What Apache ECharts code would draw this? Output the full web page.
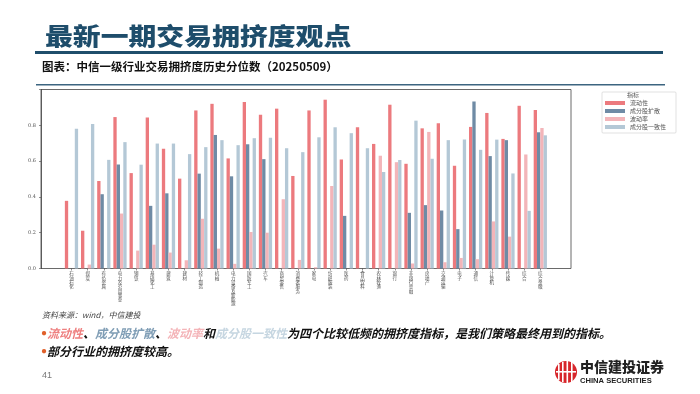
<!DOCTYPE html>
<html>
<head>
<meta charset="utf-8">
<script src="https://cdn.jsdelivr.net/npm/echarts@6/dist/echarts.min.js"></script>
<style>
html,body{margin:0;padding:0;background:#fff;}
#c{width:700px;height:394px;}
</style>
</head>
<body>
<div id="c"></div>
<script>
const categories = ['石油石化','煤炭','有色金属','电力及公用事业','钢铁','基础化工','建筑','建材','轻工制造','机械',
  '电力设备及新能源','国防军工','汽车','商贸零售','消费者服务','家电','纺织服装','医药','食品饮料','农林牧渔',
  '银行','非银行金融','房地产','交通运输','电子','通信','计算机','传媒','综合','综合金融'];
const seriesNames = ['流动性','成分股扩散','波动率','成分股一致性'];
const liquidity   = [0.378,0.211,0.489,0.846,0.533,0.843,0.669,0.502,0.883,0.920,0.615,0.930,0.859,0.893,0.517,0.883,0.943,0.609,0.789,0.696,0.915,0.585,0.783,0.811,0.574,0.791,0.869,0.724,0.909,0.885];
const diffusion   = [0,0,0.415,0.581,0,0.350,0.420,0,0.530,0.746,0.515,0.694,0.611,0,0,0,0,0.294,0,0,0,0.311,0.354,0.324,0.220,0.933,0.628,0.717,0,0.761];
const volatility  = [0,0.022,0,0.307,0.100,0.133,0.089,0.046,0.278,0.111,0.026,0.204,0.200,0.387,0.048,0.007,0.461,0,0,0.630,0.594,0.028,0.763,0.035,0.059,0.052,0.263,0.178,0.637,0.785];
const consistency = [0.781,0.807,0.607,0.706,0.580,0.698,0.698,0.639,0.678,0.717,0.689,0.728,0.730,0.672,0.650,0.733,0.789,0.756,0.672,0.539,0.606,0.826,0.613,0.717,0.720,0.663,0.720,0.531,0.322,0.744];
const yTicks = [0, 0.2, 0.4, 0.6, 0.8];
const colors = ['#EC7A7E','#6F8BA5','#F3B5B9','#B4C8D6'];

const chart = echarts.init(document.getElementById('c'), null, {renderer:'canvas'});
const values = [liquidity, diffusion, volatility, consistency];
const cjk = '"Noto Sans CJK SC","Noto Sans",sans-serif';

const option = {
  backgroundColor:'#fff',
  animation:false,
  textStyle:{fontFamily:cjk},
  grid:[
    {left:41, top:89.5, width:530, height:179, show:true, borderColor:'#444', borderWidth:0.8, backgroundColor:'transparent'},
    {left:63.4, top:89.5, width:485, height:179, show:false}
  ],
  xAxis:[
    {gridIndex:0, type:'value', min:0, max:1, show:false},
    {gridIndex:1, type:'category', data:categories,
     axisLine:{show:false},
     axisTick:{show:true, alignWithLabel:true, length:2, lineStyle:{color:'#444', width:0.6}},
     axisLabel:{interval:0, fontSize:4.5, lineHeight:4.3, color:'#555', margin:3,
       formatter:v=>v.split('').join('\n')}}
  ],
  yAxis:[
    {gridIndex:0, type:'value', min:0, max:1, interval:0.2,
     axisLine:{show:true, lineStyle:{color:'#444', width:0.8}},
     axisTick:{show:true, length:2, lineStyle:{color:'#444', width:0.6}},
     splitLine:{show:false},
     axisLabel:{fontSize:5, color:'#555', margin:5, fontFamily:'"DejaVu Serif",serif',
       formatter:v=> yTicks.some(t=>Math.abs(t-v)<1e-9) ? v.toFixed(1) : ''}},
    {gridIndex:1, type:'value', min:0, max:1, show:false}
  ],
  legend:{
    orient:'vertical', left:602, top:92,
    data:seriesNames, icon:'rect', itemWidth:20, itemHeight:4, itemGap:2,
    padding:[8,10,3,3], borderColor:'#ccc', borderWidth:0.6, borderRadius:1,
    textStyle:{fontSize:6, color:'#555', fontFamily:'"Noto Sans CJK SC",serif'}
  },
  series: seriesNames.map((n,i)=>({
    name:n, type:'bar', xAxisIndex:1, yAxisIndex:1, data:values[i],
    itemStyle:{color:colors[i]}, barGap:'0%', barCategoryGap:'18%'
  })),
  graphic:[
    {type:'text', left:45, top:24, scaleX:1.16, style:{text:'最新一期交易拥挤度观点', fontSize:24, fontWeight:900, fill:'#1E4D6B', fontFamily:cjk}},
    {type:'rect', shape:{x:35, y:51, width:628, height:3}, style:{fill:'#1F4E6B'}},
    {type:'text', left:42, top:61, style:{text:'图表：中信一级行业交易拥挤度历史分位数（20250509）', fontSize:11.5, fontWeight:'bold', fill:'#111', fontFamily:cjk}},
    {type:'rect', shape:{x:36, y:84, width:629, height:1.5}, style:{fill:'#3C6580'}},
    {type:'text', left:627, top:92, style:{text:'指标', fontSize:6, fill:'#555', fontFamily:cjk}},
    {type:'text', left:42, top:311, style:{text:'资料来源：wind，中信建投', fontSize:8, fontStyle:'italic', fill:'#444', fontFamily:cjk}},
    {type:'text', left:41, top:327, style:{
      text:'{dot|●}{a|流动性}{k|、}{b|成分股扩散}{k|、}{c|波动率}{k|和}{d|成分股一致性}{k|为四个比较低频的拥挤度指标，是我们策略最终用到的指标。}',
      rich:{
        dot:{fontSize:10, fill:'#E0602A'},
        a:{fontSize:12, fontWeight:'bold', fontStyle:'italic', fill:'#EE8080', fontFamily:cjk},
        b:{fontSize:12, fontWeight:'bold', fontStyle:'italic', fill:'#7F9DB5', fontFamily:cjk},
        c:{fontSize:12, fontWeight:'bold', fontStyle:'italic', fill:'#F4B4B8', fontFamily:cjk},
        d:{fontSize:12, fontWeight:'bold', fontStyle:'italic', fill:'#C6D6E1', fontFamily:cjk},
        k:{fontSize:12, fontWeight:'bold', fontStyle:'italic', fill:'#111', fontFamily:cjk}
      }}},
    {type:'text', left:41, top:345, style:{
      text:'{dot|●}{k|部分行业的拥挤度较高。}',
      rich:{
        dot:{fontSize:10, fill:'#E0602A'},
        k:{fontSize:12, fontWeight:'bold', fontStyle:'italic', fill:'#111', fontFamily:cjk}
      }}},
    {type:'text', left:42, top:371, style:{text:'41', fontSize:9, fill:'#777', fontFamily:'"Liberation Sans",sans-serif'}},
    {type:'circle', shape:{cx:566, cy:372, r:11}, style:{fill:'#D7262B'}},
    {type:'group', children:[
      {type:'rect', shape:{x:558, y:364, width:1.6, height:16}, style:{fill:'#fff'}},
      {type:'rect', shape:{x:562, y:362, width:1.6, height:20}, style:{fill:'#fff'}},
      {type:'rect', shape:{x:566.5, y:361, width:1.6, height:22}, style:{fill:'#fff'}},
      {type:'rect', shape:{x:571, y:362, width:1.6, height:20}, style:{fill:'#fff'}},
      {type:'rect', shape:{x:556, y:371, width:20, height:1.6}, style:{fill:'#fff'}}
    ]},
    {type:'text', left:580, top:360, style:{text:'中信建投证券', fontSize:14, fontWeight:900, fill:'#222', fontFamily:cjk}},
    {type:'text', left:580, top:377, style:{text:'CHINA SECURITIES', fontSize:7.6, fontWeight:'bold', fill:'#222', fontFamily:'"Liberation Sans",Arial,sans-serif'}}
  ]
};
chart.setOption(option);
</script>
</body>
</html>
